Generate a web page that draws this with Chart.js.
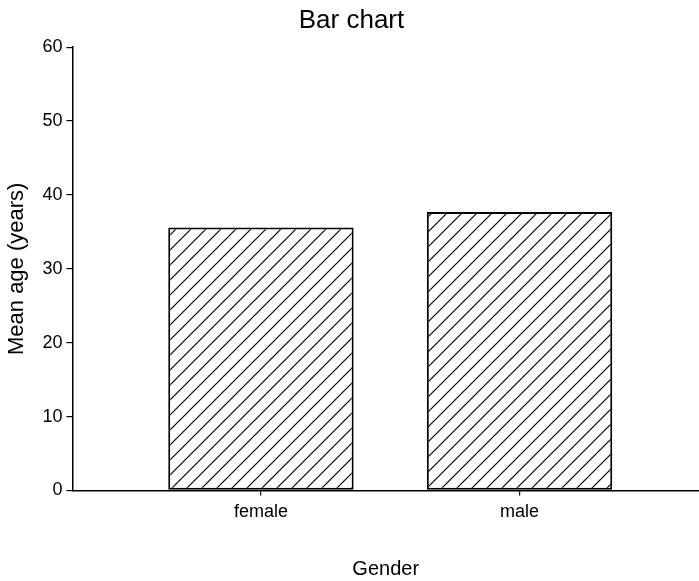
<!DOCTYPE html>
<html>
<head>
<meta charset="utf-8">
<script src="https://cdn.jsdelivr.net/npm/chart.js@4.4.0/dist/chart.umd.min.js"></script>
<style>
  html, body { margin: 0; padding: 0; background: #fff; }
  #wrap { width: 699px; height: 581px; }
</style>
</head>
<body>
<div id="wrap"><canvas id="barChart"></canvas></div>
<script>
// Chart data
const categories = ['female', 'male'];
const categoryPositions = [1, 2];
const meanAges = [35.6, 37.7];
const yTicks = [0, 10, 20, 30, 40, 50, 60];

Chart.defaults.font.family = '"Liberation Sans", Arial, sans-serif';
Chart.defaults.color = '#000';

// Diagonal hatch fill
function makeHatch() {
    const size = 15;
    const c = document.createElement('canvas');
    c.width = size;
    c.height = size;
    const g = c.getContext('2d');
    g.fillStyle = '#fff';
    g.fillRect(0, 0, size, size);
    g.strokeStyle = '#000';
    g.lineWidth = 1.2;
    g.beginPath();
    g.moveTo(0, size);
    g.lineTo(size, 0);
    g.moveTo(-size / 2, size / 2);
    g.lineTo(size / 2, -size / 2);
    g.moveTo(size / 2, size * 1.5);
    g.lineTo(size * 1.5, size / 2);
    g.stroke();
    return g.createPattern(c, 'repeat');
}

const ctx = document.getElementById('barChart');
new Chart(ctx, {
    type: 'bar',
    data: {
        datasets: [{
            data: categoryPositions.map((x, i) => ({ x: x, y: meanAges[i] })),
            backgroundColor: makeHatch(),
            borderColor: '#000',
            borderWidth: 2,
            borderSkipped: false,
            barPercentage: 0.717,
            categoryPercentage: 1
        }]
    },
    options: {
        responsive: true,
        maintainAspectRatio: false,
        animation: false,
        layout: { padding: { top: 5, right: 0, bottom: 0, left: 4 } },
        plugins: {
            legend: { display: false },
            tooltip: { enabled: false },
            title: {
                display: true,
                text: 'Bar chart',
                color: '#000',
                font: { size: 26, weight: 'normal' },
                padding: { top: 0, bottom: 11 }
            }
        },
        scales: {
            x: {
                type: 'linear',
                min: 0.271,
                max: 2.694,
                offset: false,
                afterBuildTicks: function(axis) {
                    axis.ticks = categoryPositions.map(v => ({ value: v }));
                },
                ticks: {
                    font: { size: 18 },
                    padding: 6,
                    autoSkip: false,
                    maxRotation: 0,
                    callback: function(value) {
                        const i = categoryPositions.indexOf(value);
                        return i >= 0 ? categories[i] : '';
                    }
                },
                grid: {
                    offset: false,
                    drawOnChartArea: false,
                    color: '#000',
                    tickLength: 5,
                    lineWidth: 1.2
                },
                border: { color: '#000', width: 1.5 },
                title: {
                    display: true,
                    text: 'Gender',
                    font: { size: 20 },
                    padding: { top: 28, bottom: 0 }
                }
            },
            y: {
                min: 0,
                max: 60,
                afterBuildTicks: function(axis) {
                    axis.ticks = yTicks.map(v => ({ value: v }));
                },
                ticks: {
                    font: { size: 18 },
                    padding: 4
                },
                grid: {
                    drawOnChartArea: false,
                    color: '#000',
                    tickLength: 6,
                    lineWidth: 1.2
                },
                border: { color: '#000', width: 1.5 },
                title: {
                    display: true,
                    text: 'Mean age (years)',
                    font: { size: 22 },
                    padding: { top: 0, bottom: 8 }
                }
            }
        }
    }
});
</script>
</body>
</html>
